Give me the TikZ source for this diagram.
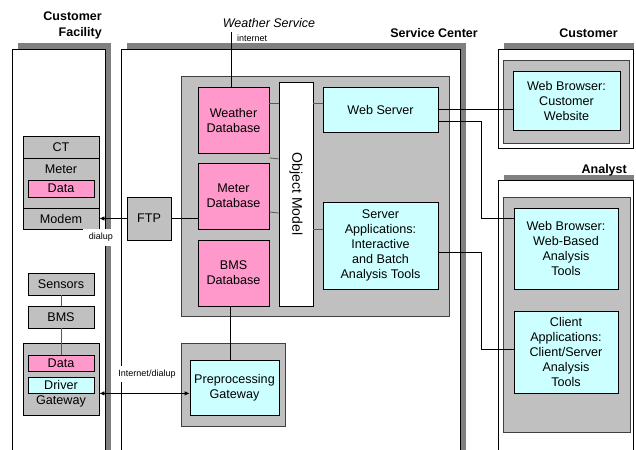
\documentclass[tikz,border=0pt]{standalone}
\usepackage{fontspec}
\setmainfont{Liberation Sans}
\usetikzlibrary{arrows.meta}
\usetikzlibrary{calc,positioning}

\definecolor{panelgray}{HTML}{C0C0C0}
\definecolor{shadowgray}{HTML}{808080}
\definecolor{dbpink}{HTML}{FF99CC}
\definecolor{appcyan}{HTML}{CCFFFF}

\tikzset{
  box/.style={draw, line width=0.8pt, inner sep=0pt, align=center, font=\fontsize{12.6}{15}\selectfont},
  dbbox/.style={box, fill=dbpink},
  appbox/.style={box, fill=appcyan},
  devbox/.style={box, fill=panelgray},
  plain/.style={inner sep=0pt, align=center, font=\fontsize{12.6}{15}\selectfont},
  panel/.style={draw=black!75, line width=0.8pt, fill=panelgray},
  site/.style={draw, line width=0.8pt, fill=white},
  shade/.style={fill=shadowgray},
  header/.style={font=\bfseries\fontsize{12.5}{16}\selectfont, align=right, inner sep=0pt},
  tag/.style={font=\fontsize{9}{10}\selectfont, inner sep=0pt},
  link/.style={line width=0.8pt},
  innerlink/.style={line width=0.8pt, draw=black!65},
  >={Latex[length=5pt, width=4.5pt]},
}

\begin{document}
\begin{tikzpicture}[x=1pt, y=-1pt]

    \useasboundingbox (0,0) rectangle (636,449);
    \clip (0,0) rectangle (636,449);

    % sites with their shadows
    \fill[shade] (18,43) rectangle (111,470);
    \draw[site] (12,49) rectangle (105,480);
    \fill[shade] (127,43) rectangle (466,470);
    \draw[site] (121,49) rectangle (460,480);
    \fill[shade] (504,43) rectangle (633.5,142);
    \draw[site] (498,49) rectangle (633,148);
    \fill[shade] (504,175) rectangle (633.5,470);
    \draw[site] (498,180) rectangle (633,480);

    \node[header, anchor=east] (hfac) at (102,25) {Customer\\Facility};
    \node[header, anchor=east] (hsc) at (478,33) {Service Center};
    \node[header] (hcust) at (588.5,33) {Customer};
    \node[header, anchor=east] (hana) at (627,170) {Analyst};

    % gray panels
    \draw[panel] (181,76) rectangle (449,316);
    \draw[panel] (181,343) rectangle (285,426);
    \draw[panel] (503,60) rectangle (629,143);
    \draw[panel] (503,197) rectangle (630,432);

    % service center
    \node[dbbox, minimum width=71pt, minimum height=66pt] (wdb) at (233.5,120) {Weather\\Database};
    \node[dbbox, minimum width=71pt, minimum height=66pt] (mdb) at (233.5,196) {Meter\\Database};
    \node[dbbox, minimum width=71pt, minimum height=66pt] (bdb) at (233.5,273) {BMS\\Database};
    \node[box, fill=white, minimum width=34pt, minimum height=224pt, font=\fontsize{14}{16}\selectfont] (objm) at (296,194) {\rotatebox{-90}{Object Model}};
    \node[appbox, minimum width=115pt, minimum height=45pt] (websrv) at (380.5,109.5) {Web Server};
    \node[appbox, minimum width=115pt, minimum height=87pt] (srvapp) at (380.5,245.5)
        {Server\\Applications:\\Interactive\\and Batch\\Analysis Tools};
    \node[appbox, minimum width=89pt, minimum height=55pt] (ppgw) at (234.5,387.5) {Preprocessing\\Gateway};
    \node[devbox, minimum width=44pt, minimum height=43pt] (ftp) at (149,218.5) {FTP};

    % customer facility
    \node[devbox, minimum width=76pt, minimum height=22pt] (ct) at (61,147) {CT};
    \node[devbox, minimum width=76pt, minimum height=50pt] (meter) at (61,183) {};
    \node[plain] (meterlbl) at (61,169) {Meter};
    \node[dbbox, minimum width=66pt, minimum height=17pt] (mdata) at (61,188.5) {Data};
    \node[devbox, minimum width=76pt, minimum height=21pt] (modem) at (61,218.5) {Modem};
    \node[devbox, minimum width=66pt, minimum height=22pt] (sensors) at (61,284) {Sensors};
    \node[devbox, minimum width=66pt, minimum height=22pt] (bms) at (61,317) {BMS};
    \node[devbox, minimum width=76pt, minimum height=72pt] (gw) at (61,379) {};
    \node[plain] (gwlbl) at (61,401) {Gateway};
    \node[dbbox, minimum width=66pt, minimum height=16pt] (gdata) at (61,363) {Data};
    \node[appbox, minimum width=66pt, minimum height=16pt] (driver) at (61,385) {Driver};

    % customer and analyst
    \node[appbox, minimum width=107pt, minimum height=59pt] (custbr) at (566.5,100.5) {Web Browser:\\Customer\\Website};
    \node[appbox, minimum width=104pt, minimum height=81pt] (webbr) at (566,248.5) {Web Browser:\\Web-Based\\Analysis\\Tools};
    \node[appbox, minimum width=104pt, minimum height=82pt] (clapp) at (566,352)
        {Client\\Applications:\\Client/Server\\Analysis\\Tools};

    % weather feed
    \node[plain, font=\itshape\fontsize{12.5}{15}\selectfont] (wsvc) at (269,23) {Weather Service};
    \coordinate (wsin) at (231,32);
    \draw[link] (wsin) -- (wsin |- wdb.north);
    \node[tag, anchor=west] (inet) at (237,38) {internet};

    % links inside the service center
    \coordinate (l1) at ($(wdb.east)+(0,-17)$);
    \draw[innerlink] (l1) -- (l1 -| objm.west);
    \coordinate (l2) at ($(websrv.west)+(0,-6)$);
    \draw[innerlink] (l2 -| objm.east) -- (l2);
    \draw[innerlink] ($(wdb.south east)+(0,4.5)$) -- ($(wdb.south -| objm.west)+(0,5.5)$);
    \draw[innerlink] ($(mdb.east)+(0,16)$) -- ($(mdb.east -| objm.west)+(0,17)$);
    \coordinate (l3) at ($(srvapp.west)+(0,-16.5)$);
    \draw[innerlink] (l3 -| objm.east) -- (l3);
    \draw[link] ([xshift=-3.5pt]bdb.south) -- ([xshift=-3.5pt]bdb.south |- ppgw.north);
    \draw[link] (ftp.east) -- (ftp.east -| mdb.west);

    % outside links
    \draw[link] (websrv.east) -- (websrv.east -| custbr.west);
    \draw[link] ($(websrv.east)+(0,11.5)$) -| ($(webbr.west)+(-32,-30.5)$) -- ($(webbr.west)+(0,-30.5)$);
    \draw[link] ($(srvapp.east)+(0,6.5)$) -| ($(clapp.west)+(-32,-3)$) -- ($(clapp.west)+(0,-3)$);

    % customer facility links
    \draw[link, draw=black!65] (sensors) -- (bms);
    \draw[link, draw=black!65] (bms) -- (gdata);
    \draw[link, ->] (ftp.west) -- (modem.east);
    \node[tag, fill=white, inner xsep=6pt, inner ysep=4pt] (dial) at (101,237.5) {dialup};
    \draw[link, <->] (gw.east |- driver.south) -- (ppgw.west |- driver.south);
    \node[tag, fill=white, inner xsep=3pt, inner ysep=4pt] (idial) at (147,374) {Internet/dialup};

\end{tikzpicture}
\end{document}
